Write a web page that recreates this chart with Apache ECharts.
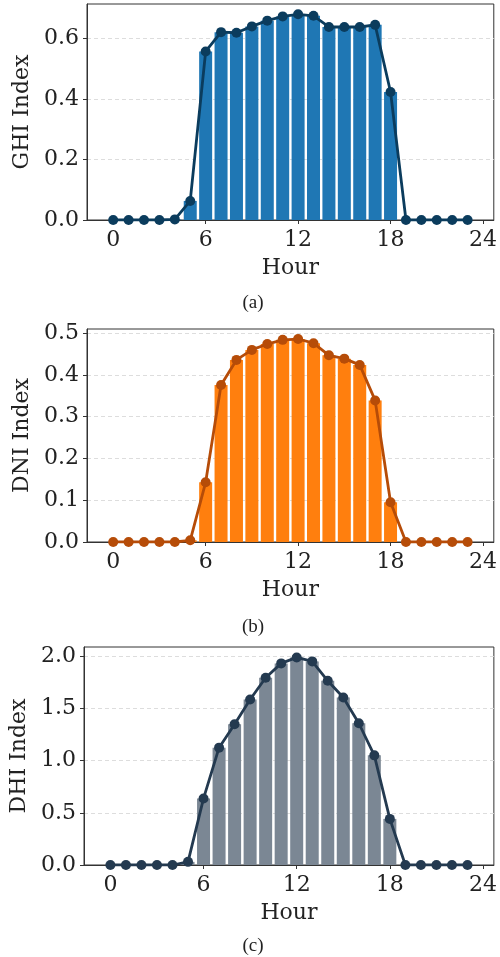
<!DOCTYPE html>
<html>
<head>
<meta charset="utf-8">
<script src="https://cdn.jsdelivr.net/npm/echarts@6/dist/echarts.min.js"></script>
<style>
  html, body { margin: 0; padding: 0; background: #fff; }
  #chart { width: 500px; height: 957px; }
</style>
</head>
<body>
<div id="chart"></div>
<script>
// hourly profiles
const hours = [0,1,2,3,4,5,6,7,8,9,10,11,12,13,14,15,16,17,18,19,20,21,22,23];
const ghi = [0,0,0,0,0.002,0.063,0.557,0.621,0.619,0.640,0.659,0.673,0.680,0.675,0.638,0.638,0.638,0.645,0.423,0,0,0,0,0];
const dni = [0,0,0,0,0,0.004,0.143,0.376,0.436,0.460,0.474,0.484,0.486,0.476,0.447,0.439,0.424,0.339,0.095,0,0,0,0,0];
const dhi = [0,0,0,0,0,0.03,0.638,1.125,1.35,1.587,1.795,1.933,1.99,1.952,1.766,1.606,1.359,1.051,0.442,0,0,0,0,0];
const xTicks = [0, 6, 12, 18, 24];

const panels = [
  { name: 'GHI Index', data: ghi, bar: '#1f77b4', line: '#0b3c5d', max: 0.714, step: 0.2, caption: '(a)',
    grid: { left: 87, right: 5, top: 4, height: 216 }, capY: 303 },
  { name: 'DNI Index', data: dni, bar: '#ff7f0e', line: '#b64c08', max: 0.51, step: 0.1, caption: '(b)',
    grid: { left: 87, right: 1, top: 329, height: 213 }, capY: 627 },
  { name: 'DHI Index', data: dhi, bar: '#7b8794', line: '#243a50', max: 2.09, step: 0.5, caption: '(c)',
    grid: { left: 84, right: 4, top: 647, height: 218 }, capY: 946 }
];

const serif = 'DejaVu Serif';
const chart = echarts.init(document.getElementById('chart'));

const grids = [], xAxes = [], yAxes = [], series = [], graphics = [];
panels.forEach((p, i) => {
  grids.push(Object.assign({ show: true, borderColor: '#333', borderWidth: 1 }, p.grid));
  xAxes.push({
    type: 'value', gridIndex: i, min: -1.7, max: 24.7,
    name: 'Hour', nameLocation: 'middle', nameGap: 37,
    nameTextStyle: { fontFamily: serif, fontSize: 22, color: '#222' },
    axisLine: { show: true, onZero: false, lineStyle: { color: '#333' } },
    axisTick: { show: true, customValues: xTicks, length: 4, lineStyle: { color: '#333' } },
    axisLabel: { customValues: xTicks, margin: 9, fontFamily: serif, fontSize: 22, color: '#222' },
    splitLine: { show: false }
  });
  yAxes.push({
    type: 'value', gridIndex: i, min: 0, max: p.max, interval: p.step,
    name: p.name, nameLocation: 'middle', nameGap: 54, nameRotate: 90,
    nameTextStyle: { fontFamily: serif, fontSize: 22, color: '#222' },
    axisLine: { show: true, onZero: false, lineStyle: { color: '#333' } },
    axisTick: { show: true, length: 4, lineStyle: { color: '#333' } },
    axisLabel: { showMaxLabel: false, margin: 8, fontFamily: serif, fontSize: 22, color: '#222',
      formatter: v => v.toFixed(1) },
    splitLine: { show: true, showMinLine: false, showMaxLine: false,
      lineStyle: { color: '#ddd', type: [4, 3], width: 1 } }
  });
  const pts = hours.map((h, k) => [h, p.data[k]]);
  series.push({
    type: 'bar', xAxisIndex: i, yAxisIndex: i, data: pts, barWidth: 13,
    itemStyle: { color: p.bar }, z: 2, silent: true
  });
  series.push({
    type: 'line', xAxisIndex: i, yAxisIndex: i, data: pts,
    symbol: 'circle', symbolSize: 10, showSymbol: true,
    lineStyle: { color: p.line, width: 2.8 }, itemStyle: { color: p.line },
    z: 3, silent: true
  });
  graphics.push({
    type: 'text', x: 253, y: p.capY,
    style: { text: p.caption, fontFamily: 'Liberation Serif', fontSize: 19, fill: '#222',
      align: 'center', verticalAlign: 'middle' }
  });
});

chart.setOption({
  animation: false,
  grid: grids,
  xAxis: xAxes,
  yAxis: yAxes,
  series: series,
  graphic: graphics
});
</script>
</body>
</html>
